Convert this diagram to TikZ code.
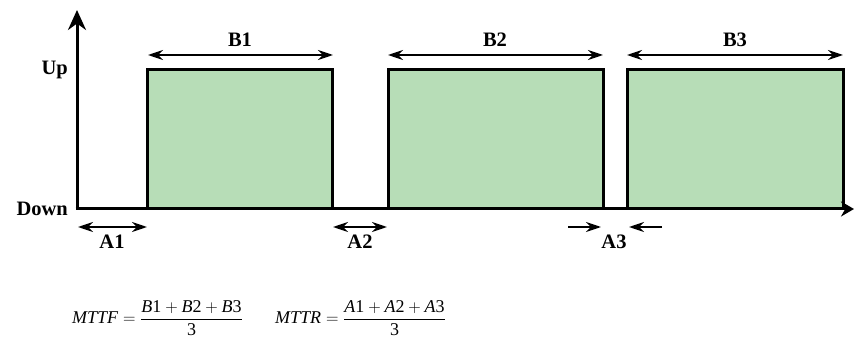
\documentclass[tikz,border=0pt]{standalone}
\usepackage{amsmath}
\usepackage{fontspec}
\setmainfont{Liberation Serif}
\usetikzlibrary{arrows.meta}
\definecolor{upgreen}{RGB}{183,221,183}
\newcommand{\tv}[2]{\textit{#1}\textrm{#2}}

\begin{document}
\begin{tikzpicture}[x=1pt, y=-1pt, >={Stealth[length=15pt, width=10pt]},
  lbl/.style={font=\bfseries\fontsize{20.5}{24}\selectfont, inner sep=0pt},
  upbox/.style={draw, line width=3pt, fill=upgreen, line join=miter},
  dim/.style={<->, line width=2pt},
  fml/.style={font=\fontsize{18}{21}\selectfont, anchor=west, inner sep=0pt}]
\useasboundingbox (0,0) rectangle (854,339);
% up periods
\filldraw[upbox] (147,209) -- (147,70) -- (332,70) -- (332,209);
\filldraw[upbox] (388,209) -- (388,70) -- (603,70) -- (603,209);
\filldraw[upbox] (627,209) -- (627,70) -- (843,70) -- (843,209);
% axes
\coordinate (O) at (77,209);
\coordinate (ytop) at (77,10);
\coordinate (xend) at (854,209);
\draw[line width=3pt, -{Stealth[length=20pt, width=18pt]}] (O) -- (ytop);
\draw[line width=3pt, -{Stealth[length=13pt, width=15pt]}] (75.5,209) -- (xend);
\node[lbl, anchor=east] (up)   at (68,70)  {Up};
\node[lbl, anchor=east] (down) at (68,209) {Down};
% up times
\coordinate (b1l) at (148,55); \coordinate (b1r) at (333,55);
\coordinate (b2l) at (388,55); \coordinate (b2r) at (603,55);
\coordinate (b3l) at (627,55); \coordinate (b3r) at (843,55);
\draw[dim] (b1l) -- (b1r);
\draw[dim] (b2l) -- (b2r);
\draw[dim] (b3l) -- (b3r);
\node[lbl] (B1) at (240,40) {B1};
\node[lbl] (B2) at (495,40) {B2};
\node[lbl] (B3) at (735,40) {B3};
% down times
\coordinate (a1l) at (78,227);  \coordinate (a1r) at (147,227);
\coordinate (a2l) at (333,227); \coordinate (a2r) at (387,227);
\coordinate (a3l) at (568,227); \coordinate (a3r) at (662,227);
\draw[dim] (a1l) -- (a1r);
\draw[dim] (a2l) -- (a2r);
\draw[->, line width=2pt] (a3l) -- (601,227);
\draw[->, line width=2pt] (a3r) -- (629,227);
\node[lbl] (A1) at (112,242) {A1};
\node[lbl] (A2) at (360,242) {A2};
\node[lbl] (A3) at (614,242) {A3};
% formulas
\node[fml] (mttf) at (72,318)
  {$\textit{MTTF}=\dfrac{\tv{B}{1}+\tv{B}{2}+\tv{B}{3}}{\textrm{3}}$};
\node[fml] (mttr) at (275,318)
  {$\textit{MTTR}=\dfrac{\tv{A}{1}+\tv{A}{2}+\tv{A}{3}}{\textrm{3}}$};
\end{tikzpicture}
\end{document}
